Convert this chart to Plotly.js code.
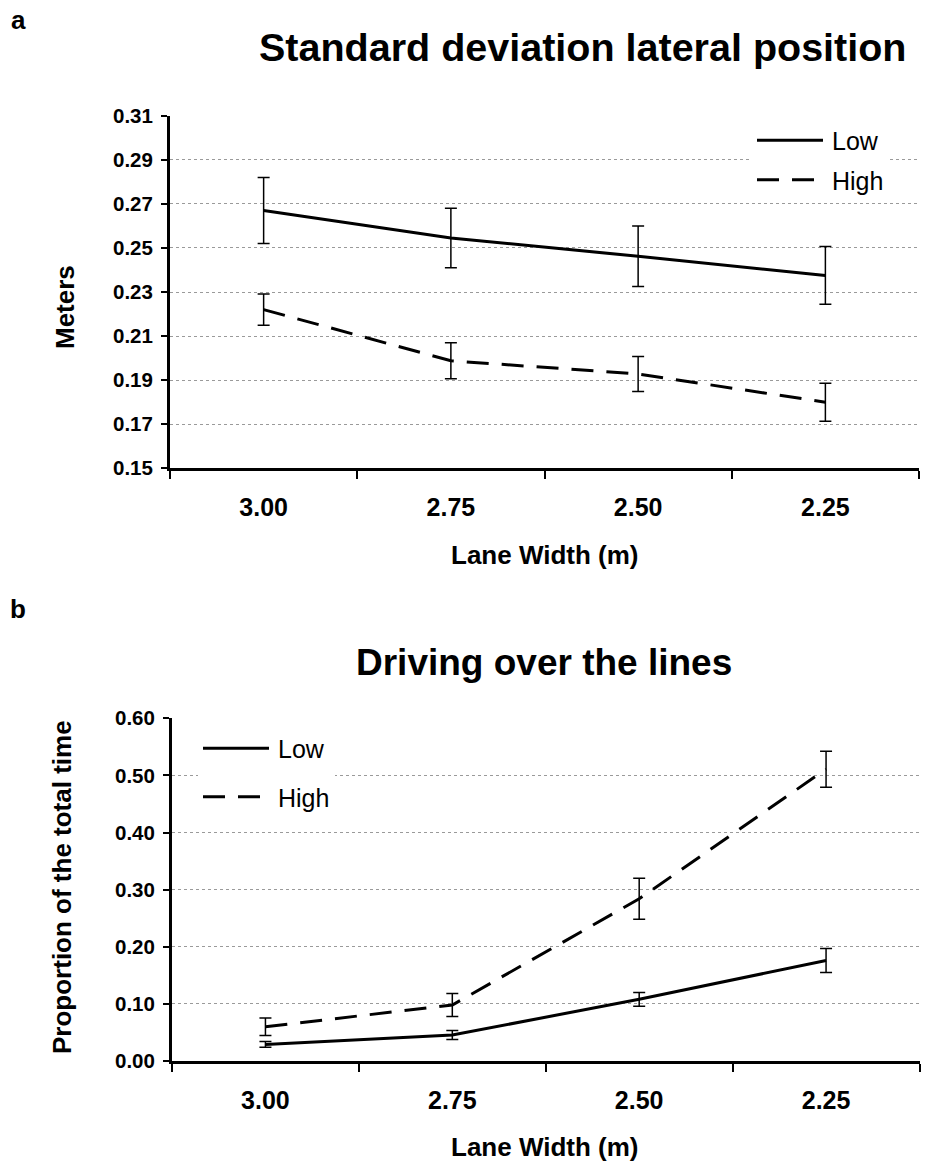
<!DOCTYPE html>
<html>
<head>
<meta charset="utf-8">
<script src="https://cdn.plot.ly/plotly-3.0.1.min.js"></script>
<style>html,body{margin:0;padding:0;background:#fff;}#chart{width:928px;height:1163px;}</style>
</head>
<body>
<div id="chart"></div>
<script>
// ---- data ----
const laneWidths = ["3.00", "2.75", "2.50", "2.25"];
const seriesNames = ["Low", "High"];

// Panel a: standard deviation lateral position (m)
const sdlpLow = [0.267, 0.2545, 0.2462, 0.2375];
const sdlpLowErr = [0.015, 0.0135, 0.0137, 0.0131];
const sdlpHigh = [0.222, 0.1988, 0.1928, 0.180];
const sdlpHighErr = [0.0071, 0.0082, 0.0079, 0.0086];

// Panel b: driving over the lines (proportion of total time)
const dolLow = [0.029, 0.0455, 0.108, 0.176];
const dolLowErr = [0.005, 0.008, 0.012, 0.021];
const dolHigh = [0.060, 0.098, 0.284, 0.511];
const dolHighErr = [0.0155, 0.020, 0.036, 0.0315];

const panelTitles = ["Standard deviation lateral position", "Driving over the lines"];
const panelLetters = ["a", "b"];
const yTitles = ["Meters", "Proportion of the total time"];
const xTitle = "Lane Width (m)";

// ---- styling ----
const W = 928, H = 1163;
const FONT = "Liberation Sans, Arial, Helvetica, sans-serif";
const px = v => v / W;
const py = v => 1 - v / H;
const DASH = "22px,13px";

function lineTrace(y, err, name, dash, xa, ya, legend) {
  return {
    type: "scatter", mode: "lines",
    x: laneWidths, y: y, name: name,
    xaxis: xa, yaxis: ya, legend: legend, legendgroup: legend + name,
    line: {color: "#000", width: 3, dash: dash},
    error_y: {type: "data", array: err, visible: true, color: "#000", thickness: 1.5, width: 6},
    hoverinfo: "skip"
  };
}

const data = [
  lineTrace(sdlpLow, sdlpLowErr, seriesNames[0], "solid", "x", "y", "legend"),
  lineTrace(sdlpHigh, sdlpHighErr, seriesNames[1], DASH, "x", "y", "legend"),
  lineTrace(dolLow, dolLowErr, seriesNames[0], "solid", "x2", "y2", "legend2"),
  lineTrace(dolHigh, dolHighErr, seriesNames[1], DASH, "x2", "y2", "legend2")
];

function xAxis(domain, anchor) {
  return {
    domain: domain, anchor: anchor, type: "category",
    categoryorder: "array", categoryarray: laneWidths,
    range: [-0.5, 3.5], tickson: "boundaries",
    ticks: "outside", ticklen: 8, tickwidth: 2, tickcolor: "#000",
    showline: true, linewidth: 3, linecolor: "#000", mirror: false,
    showgrid: false, zeroline: false, fixedrange: true,
    ticklabelstandoff: 15,
    tickfont: {family: FONT, size: 25, color: "#000", weight: "bold"}
  };
}
function yAxis(domain, anchor, range, dtick) {
  return {
    domain: domain, anchor: anchor, range: range,
    tick0: range[0], dtick: dtick, tickformat: ".2f",
    ticks: "outside", ticklen: 6, tickwidth: 2, tickcolor: "#000",
    showline: true, linewidth: 3, linecolor: "#000",
    showgrid: true, gridcolor: "#9a9a9a", gridwidth: 1, griddash: "dot",
    zeroline: false, fixedrange: true,
    ticklabelstandoff: 4,
    tickfont: {family: FONT, size: 20.5, color: "#000", weight: "bold"}
  };
}

function ann(text, x, y, size, bold, extra) {
  return Object.assign({
    text: text, xref: "paper", yref: "paper", x: px(x), y: py(y),
    xanchor: "center", yanchor: "middle", showarrow: false,
    font: {family: FONT, size: size, color: "#000", weight: bold ? "bold" : "normal"}
  }, extra || {});
}

const layout = {
  width: W, height: H,
  margin: {l: 0, r: 0, t: 0, b: 0},
  paper_bgcolor: "#fff", plot_bgcolor: "#fff",
  showlegend: true,
  xaxis: xAxis([px(170), px(919)], "y"),
  yaxis: yAxis([py(468.3), py(115.7)], "x", [0.15, 0.31], 0.02),
  xaxis2: xAxis([px(172), px(919.5)], "y2"),
  yaxis2: yAxis([py(1061), py(718.3)], "x2", [0, 0.6], 0.1),
  legend: {
    x: px(752), y: py(117.5), xanchor: "left", yanchor: "top",
    bgcolor: "#fff", borderwidth: 0, itemwidth: 70, tracegroupgap: 4,
    font: {family: FONT, size: 25, color: "#000"}
  },
  legend2: {
    x: px(198), y: py(725.5), xanchor: "left", yanchor: "top",
    bgcolor: "#fff", borderwidth: 0, itemwidth: 70, tracegroupgap: 13,
    font: {family: FONT, size: 25, color: "#000"}
  },
  annotations: [
    ann(panelLetters[0], 18, 20, 26, true),
    ann(panelLetters[1], 18, 609, 26, true),
    ann(panelTitles[0], 582, 47, 39.5, true),
    ann(panelTitles[1], 544, 662, 37, true),
    ann(yTitles[0], 65, 307, 26, true, {textangle: -90}),
    ann(yTitles[1], 62, 887, 26, true, {textangle: -90}),
    ann(xTitle, 545, 555, 26, true),
    ann(xTitle, 545, 1147, 26, true)
  ]
};

Plotly.newPlot("chart", data, layout, {staticPlot: true, displayModeBar: false}).then(function (gd) {
  gd.querySelectorAll(".legendlines path").forEach(function (p) {
    p.setAttribute("d", "M5,0h66");
  });
});
</script>
</body>
</html>
